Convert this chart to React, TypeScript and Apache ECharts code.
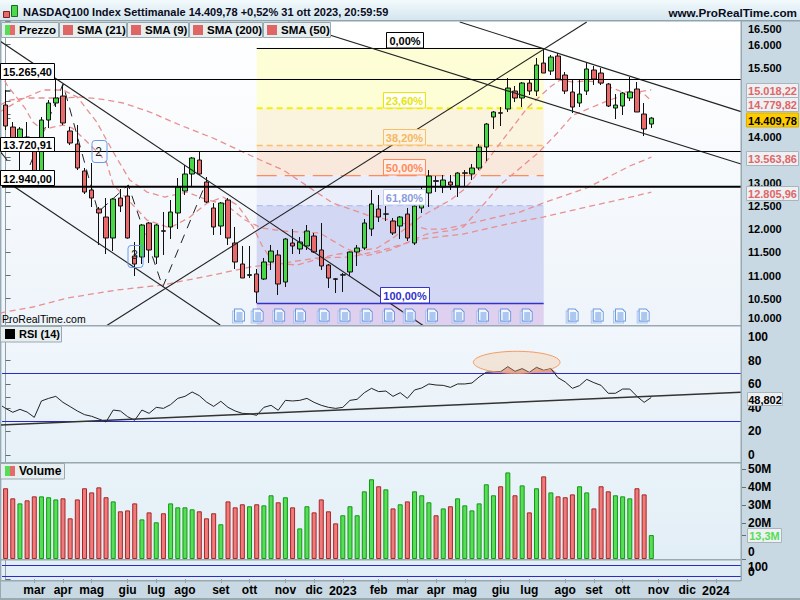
import React, { useEffect, useRef } from "react";
import * as echarts from "echarts";

const weeks = [
  "2022-02-07","2022-02-14","2022-02-21","2022-02-28","2022-03-07","2022-03-14","2022-03-21","2022-03-28",
  "2022-04-04","2022-04-11","2022-04-18","2022-04-25","2022-05-02","2022-05-09","2022-05-16","2022-05-23","2022-05-30",
  "2022-06-06","2022-06-13","2022-06-20","2022-06-27","2022-07-04","2022-07-11","2022-07-18","2022-07-25",
  "2022-08-01","2022-08-08","2022-08-15","2022-08-22","2022-08-29","2022-09-05","2022-09-12","2022-09-19","2022-09-26",
  "2022-10-03","2022-10-10","2022-10-17","2022-10-24","2022-10-31","2022-11-07","2022-11-14","2022-11-21","2022-11-28",
  "2022-12-05","2022-12-12","2022-12-19","2022-12-26","2023-01-02","2023-01-09","2023-01-16","2023-01-23","2023-01-30",
  "2023-02-06","2023-02-13","2023-02-20","2023-02-27","2023-03-06","2023-03-13","2023-03-20","2023-03-27",
  "2023-04-03","2023-04-10","2023-04-17","2023-04-24","2023-05-01","2023-05-08","2023-05-15","2023-05-22","2023-05-29",
  "2023-06-05","2023-06-12","2023-06-19","2023-06-26","2023-07-03","2023-07-10","2023-07-17","2023-07-24","2023-07-31",
  "2023-08-07","2023-08-14","2023-08-21","2023-08-28","2023-09-04","2023-09-11","2023-09-18","2023-09-25",
  "2023-10-02","2023-10-09","2023-10-16","2023-10-23","2023-10-30","2023-11-06","2023-11-13","2023-11-20","2023-11-27",
  "2023-12-04","2023-12-11","2023-12-18","2023-12-25","2024-01-01","2024-01-08","2024-01-15","2024-01-22",
];

const monthTickDates = [
  "2022-03-07","2022-04-04","2022-05-02","2022-06-06","2022-07-04","2022-08-01","2022-09-05","2022-10-03","2022-11-07","2022-12-05",
  "2023-01-02","2023-02-06","2023-03-06","2023-04-03","2023-05-01","2023-06-05","2023-07-03","2023-08-07","2023-09-04","2023-10-02",
  "2023-11-06","2023-12-04","2024-01-01",
];
const monthTickLabels = [
  "mar","apr","mag","giu","lug","ago","set","ott","nov","dic","2023","feb","mar","apr","mag","giu","lug","ago","set","ott","nov","dic","2024",
];

// open, close, low, high
const candles = [
  [14692,14238,14151,15017],[14216,13935,13718,14324],[13718,14173,13177,14216],[14000,13761,13718,14324],
  [13826,13112,12961,13900],[13177,14368,13112,14433],[14368,14736,14194,14800],[14736,14844,14649,15233],
  [14887,14303,14259,15125],[14130,13870,13826,14216],[13848,13329,13285,14259],[13264,12809,12766,13329],
  [12853,12679,12485,13437],[12441,12355,11662,12485],[12268,11814,11467,12679],[11814,12658,11532,12680],
  [12679,12506,12376,12874],[12723,11814,11800,12896],[11424,11251,10991,11727],[11402,12095,11251,12117],
  [12138,11554,11273,12160],[11402,12095,11251,12117],[11970,11960,11446,12376],[12052,12376,11792,12636],
  [12355,12917,12008,13112],[12831,13199,12744,13394],[13199,13545,12917,13567],[13502,13199,13177,13675],
  [13026,12593,12571,13134],[12463,12052,11879,12571],[12073,12571,11879,12593],[12636,11814,11662,12679],
  [11705,11294,11143,12052],[11251,10948,10948,11641],[11005,11020,10948,11641],[11035,10645,10407,11143],
  [10926,11294,10905,11381],[11294,11532,11121,11662],[11446,10818,10580,11554],[10861,11792,10753,11814],
  [11705,11641,11467,12008],[11576,11727,11467,11835],[11641,11965,11554,12095],[11857,11511,11489,11922],
  [11554,11208,11121,12138],[11229,10948,10732,11251],[10930,10920,10623,10948],[11010,11020,10645,11056],
  [11078,11511,10991,11520],[11511,11597,11208,11662],[11597,12138,11554,12225],[12008,12550,11857,12853],
  [12441,12268,12160,12744],[12330,12335,12182,12506],[12182,11922,11879,12247],[12073,12268,11792,12290],
  [12333,11814,11749,12463],[11705,12506,11662,12571],[12463,12571,12355,12917],[12788,13155,12485,13285],
  [13055,13040,12809,13155],[12917,13069,12788,13177],[13026,12961,12853,13177],[12939,13220,12701,13240],
  [13215,13225,12917,13285],[13199,13329,13069,13415],[13329,13783,13285,13848],[13783,14281,13480,14303],
  [14433,14541,14173,14562],[14525,14515,14238,14649],[14606,15060,14541,15277],[14995,14844,14757,15104],
  [14844,15168,14649,15190],[15168,14995,14909,15255],[14995,15558,14887,15710],[15601,15385,15385,15905],
  [15428,15731,15342,15775],[15753,15255,15255,15818],[15342,14995,14930,15407],[14974,14649,14519,15255],
  [14736,14930,14649,15233],[14995,15472,14909,15601],[15450,15255,15125,15537],[15385,15168,15125,15493],
  [15147,14671,14649,15168],[14627,14692,14389,14930],[14671,14952,14476,14974],[14844,14974,14779,15298],
  [15039,14541,14541,15190],[14497,14173,14021,14736],[14281,14409.78,14194,14430],
];

const volumes = [
  39.3,33.7,30.9,32.6,34.8,34.8,34.3,33.1,33.7,22.6,33.1,39.3,37,39.8,34.3,32,26.5,27,30.9,22,25.9,20.4,25.4,30.9,
  28.7,28.7,27.6,26.5,22.6,25.4,19.3,32,28.7,30.4,29.3,30.4,29.8,35.4,31.5,34.3,28.7,17,29.3,25.9,33.1,26.5,19.8,
  24.3,29.3,24.3,37.6,44.3,40.4,38.7,28.1,30.4,32,37.6,35.4,31.5,24.3,28.1,29.3,33.7,29.8,27,30.9,41.5,35.4,40.4,
  48.1,35.4,40.9,25.9,39.3,45.9,37,34.8,34.3,35.9,40.4,37,28.1,40.4,37.6,35.4,34.8,33.7,39.3,35.9,13.3,
];

const rsiStart = 41.5;
const rsiValues = [
  39.5,36.2,38.7,36.4,31.9,45.8,48,49.7,44.6,41,37.3,34.2,32.8,30.5,28,38.1,37.3,32.5,29.4,38.1,35.3,40.4,39.5,42.7,
  48,49.7,53.4,50.3,44.9,41.2,45.5,40.4,37.3,35.3,35,33.6,40.4,42.1,37.9,46.3,45.8,46.3,48,44.6,42.1,40.4,39.5,40.4,
  46.3,47.2,52.8,56.5,53.7,54.2,49.7,52.8,48,55.1,56.8,60.2,59.3,59,57.3,60.2,60.2,61,66.1,70.1,70.6,70.6,74.9,70.9,
  73.2,70.1,74.3,71.8,73.2,65.5,61.9,56.5,58.8,64.1,61.3,59,52.3,52.3,55.9,55.9,49.7,44.6,48.802,
];
const rsiOverboughtSpan = [66.6, 77];
const rsiLevels = [69.07, 28.39];
const rsiTrend = [[-0.8, 25.4], [102.5, 53.2]];
const miniLevels = [96.4, 17.9];

// Moving averages: [week index, value]
const sma9 = [
  [-0.8,15407],[0.2,15125],[2.7,14627],[3.8,14324],[5.2,14151],[6.6,14216],[8,14259],[9.3,14194],[10.8,13978],[13.2,13610],
  [14.1,13437],[15,12961],[17.1,12636],[19.7,12203],[22.9,12030],[25.7,12268],[28.1,12571],[30.3,12701],[32.3,12528],
  [34.5,12052],[35.7,11662],[37.3,11273],[40.6,11229],[45.6,11446],[51.8,11597],[54,11814],[57.8,12268],[62,12636],
  [63.8,12853],[64.7,13004],[72.7,14627],[75.9,15082],[77.3,15233],[79.1,15190],[81,15212],[82.8,15190],[84.2,15082],
  [86,14974],[88,14974],[89,14930],[90,14779.82],
];
const sma21 = [
  [-0.8,14541],[2,14800],[5.2,15017],[8,15017],[10,14865],[12.7,14324],[15,13675],[17.3,13069],[19.7,12809],[22.2,12701],
  [25.3,12809],[28.1,12636],[30.6,12550],[33.4,12203],[35.7,12030],[38.7,11965],[41,11944],[43.8,11922],[47.3,11597],
  [50.1,11424],[53.6,11554],[58.7,11900],[62.4,11987],[63.8,12052],[66.8,12571],[68.9,12961],[74.2,13653],[76.9,14087],
  [79.1,14476],[84.2,14800],[87,14952],[90,15018.22],
];
const sma50 = [
  [-0.8,14692],[0.6,14800],[3,14844],[8,14844],[10.4,14865],[13.2,14822],[16.4,14736],[20.1,14541],[24.3,14259],[28.9,13978],
  [35.5,13502],[38.7,13285],[45.6,12571],[50.4,12311],[53.6,12203],[58.7,12008],[61,12008],[63.8,12095],[68.5,12268],
  [71.7,12376],[74.9,12571],[81,12896],[87,13372],[90,13563.86],
];
const sma200 = [
  [-0.8,10190],[3.8,10320],[8.6,10515],[15.5,10688],[21.9,10797],[28.9,11013],[34.1,11186],[38.7,11273],[43.4,11381],[48,11402],
  [52.6,11554],[57.8,11792],[63.8,11900],[69.3,12095],[74.9,12268],[81,12485],[86.6,12679],[90,12805.96],
];

const waveLine = [[3.4,13394],[8,15147],[12.9,12376],[17.1,12961],[21.9,10753],[28.1,13069]];
const trendLines = [
  [[-0.8,16078],[58.3,9909]],
  [[-0.8,13134],[29.9,9930]],
  [[14,9909],[81,16489]],
  [[39.4,16489],[102.5,13415]],
  [[63.3,16489],[102.5,14549]],
  [[-0.8,13697],[0.2,13502]],
];
const levelLines = [
  { value: 15245, width: 1 },
  { value: 13686, width: 1 },
  { value: 12924, width: 2 },
];

const fibStart = 35;
const fibEnd = 75;
const fibLevels = [15916, 14621, 13816, 13166, 12515, 10396];
const fibColors = ["#000000", "#f2f200", "#f8c06a", "#ff8a5c", "#b4c0f0", "#3333cc"];
const fibBands = ["#fdfdd6", "#faf3de", "#f9e8dc", "#e9eefa", "#d2d7f4", "#e0d0f0"];
const fibBottom = 9909;

const eventWeeks = [32.6,35.2,38.2,41.1,44.4,47.3,50.4,53.5,56.4,59.5,63.2,66.6,69.7,72.7,79.1,82.6,85.7,89];

const priceTicks = [10000,10500,11000,11500,12000,12500,13000,13500,14000,14500,15000,15500,16000,16500,15018,14780,14410,13564,12806];
const priceLabels = [10000,10500,11000,11500,12000,12500,13000,14000,15500,16000,16500];
const rsiAxis = [0,20,40,60,80,100];
const volumeAxis = [0,10,20,30,40,50];

const isGreen = (c: number[]) => c[1] >= c[0];
const FONT = '"Liberation Sans"';
const BLACK_LINE = "#222222";
const SMA_LINE = "#e89090";
const F11 = `bold 11px ${FONT}`;

function smaSeries(data: number[][]) {
  return {
    type: "line", xAxisIndex: 1, yAxisIndex: 0, data, symbol: "none", silent: true, z: 3,
    lineStyle: { color: SMA_LINE, width: 1.3, type: [6, 4] },
  };
}
function lineSeries(data: number[][], color: string, width: number, xAxisIndex = 1, yAxisIndex = 0, z = 4, dash: any = "solid") {
  return {
    type: "line", xAxisIndex, yAxisIndex, data, symbol: "none", silent: true, z,
    lineStyle: { color, width, type: dash },
  };
}

function rect(x: number, y: number, w: number, h: number, fill: any, stroke?: string, z = 50, r = 0) {
  return { type: "rect", z, silent: true, shape: { x, y, width: w, height: h, r }, style: { fill, stroke: stroke || "none", lineWidth: 1 } };
}
function text(x: number, y: number, t: string, fill = "#000", font = F11, align = "left", z = 51) {
  return { type: "text", z, silent: true, style: { x, y, text: t, fill, font, textAlign: align, textVerticalAlign: "middle", align, verticalAlign: "middle" } };
}
function box(x: number, y: number, w: number, h: number, t: string, fill: string, stroke: string, color: string, font = F11) {
  return [rect(x + 0.5, y + 0.5, w, h, fill, stroke), text(x + 0.5 + w / 2, y + 0.5 + h / 2 + 0.5, t, color, font, "center")];
}

function buildGraphics() {
  const tabs = [
    { x: 1, w: 57, label: "Prezzo", split: true },
    { x: 59, w: 67, label: "SMA (21)" },
    { x: 127, w: 61, label: "SMA (9)" },
    { x: 189, w: 73, label: "SMA (200)" },
    { x: 263, w: 67, label: "SMA (50)" },
  ];
  const els: any[] = [];
  // header
  els.push(rect(0, 0, 800, 21, { type: "linear", x: 0, y: 0, x2: 0, y2: 1, colorStops: [{ offset: 0, color: "#f2fafc" }, { offset: 1, color: "#d3e5ee" }] }));
  els.push(rect(0, 20, 800, 1.5, "#8fa3ad"));
  els.push(rect(3.5, 11.5, 6, 6, "#e86a6a", "#7a2020"));
  els.push(rect(11.5, 5.5, 6, 11, "#4fd84f", "#1c6a1c"));
  els.push(text(23, 12, "NASDAQ100 Index Settimanale 14.409,78 +0,52% 31 ott 2023, 20:59:59", "#0a0a20", F11));
  els.push(text(797, 12, "www.ProRealTime.com", "#0a0a20", `bold 11.7px ${FONT}`, "right"));
  // tabs
  tabs.forEach((t) => {
    els.push(rect(t.x + 0.5, 22.5, t.w, 15, "#e6eef0", "#9aa9b0"));
    if (t.split) {
      els.push(rect(t.x + 4, 25, 5, 10, "#55dd55"));
      els.push(rect(t.x + 9, 25, 5, 10, "#e66a6a"));
    } else {
      els.push(rect(t.x + 4, 25, 10, 10, "#e06666"));
    }
    els.push(text(t.x + 18, 30, t.label, "#000", `bold 11.5px ${FONT}`));
  });
  // sub-panel tabs
  els.push(rect(0.5, 326.5, 61, 15.5, "#e6eef0", "#9aa9b0"));
  els.push(rect(5, 329, 10, 10, "#000"));
  els.push(text(19, 334, "RSI (14)", "#000", F11));
  els.push(rect(0.5, 463.5, 64, 15.5, "#e6eef0", "#9aa9b0"));
  els.push(rect(5, 466, 5, 10, "#55dd55"));
  els.push(rect(10, 466, 5, 10, "#e66a6a"));
  els.push(text(19, 471, "Volume", "#000", `bold 12px ${FONT}`));
  els.push(text(2, 318.5, "ProRealTime.com", "#000", `10.5px ${FONT}`));
  // dividers
  [325, 462, 559, 580].forEach((y) => els.push(rect(0, y, 741, 1.5, "#9aa8b0")));
  els.push(rect(0, 598, 800, 2, "#9aa8b0"));
  els.push(rect(0, 21, 1, 579, "#9aa8b0"));
  els.push(rect(740.5, 21, 1.5, 560, "#9aa8b0"));
  // horizontal level boxes
  els.push(...box(0, 63, 54, 16, "15.265,40", "#ffffff", "#000000", "#000"));
  els.push(...box(0, 137, 54, 14, "13.720,91", "#ffffff", "#000000", "#000"));
  els.push(...box(0, 170, 54, 15, "12.940,00", "#ffffff", "#000000", "#000"));
  // Fibonacci boxes
  els.push(...box(386, 32, 37, 15.5, "0,00%", "#ffffff", "#000000", "#000"));
  els.push(...box(383, 92, 42, 15.5, "23,60%", "#ffffff", "#e8e800", "#e6e600"));
  els.push(...box(383, 129, 42, 15.5, "38,20%", "#fbf3e0", "#f6bf68", "#f4b860"));
  els.push(...box(383, 159, 42, 15.5, "50,00%", "#fdf0e8", "#ff8a5c", "#ff8a5c"));
  els.push(...box(383, 189, 42, 15.5, "61,80%", "#ffffff", "#c0ccf0", "#8c9cdc"));
  els.push(...box(380, 287, 49, 15.5, "100,00%", "#ffffff", "#3333cc", "#3333cc"));
  // wave labels
  els.push(rect(92, 140.5, 15, 22, "none", "#6a9ae8", 50, 3));
  els.push(text(98.5, 152, "2", "#222", `12px ${FONT}`, "center"));
  els.push(rect(128, 245.5, 15, 22, "none", "#6a9ae8", 50, 3));
  els.push(text(134.5, 255, "3", "#222", `12px ${FONT}`, "center"));
  // RSI ellipse
  els.push({
    type: "ellipse", z: 20, silent: true, shape: { cx: 516.7, cy: 362.3, rx: 43.3, ry: 11 },
    style: { fill: "rgba(250,190,140,0.3)", stroke: "#f79a62", lineWidth: 1 },
  });
  // right-hand value boxes
  els.push(...box(746, 83, 52, 14, "15.018,22", "#edf1f4", "#aab4ba", "#e06666"));
  els.push(...box(746, 97, 52, 14, "14.779,82", "#edf1f4", "#aab4ba", "#e06666"));
  els.push(...box(746, 112.5, 52, 14, "14.409,78", "#ffcc00", "#d9b000", "#000000"));
  els.push(...box(746, 151, 52, 14, "13.563,86", "#edf1f4", "#aab4ba", "#e06666"));
  els.push(...box(746, 186, 52, 14, "12.805,96", "#edf1f4", "#aab4ba", "#e06666"));
  els.push(...box(747, 392, 35, 13, "48,802", "#edf1f4", "#aab4ba", "#000000"));
  els.push(...box(747, 528, 34, 14, "13,3M", "#edf1f4", "#aab4ba", "#55dd55"));
  return els;
}

const panelBg = (a: string, b: string) => ({ type: "linear", x: 0, y: 0, x2: 0, y2: 1, colorStops: [{ offset: 0, color: a }, { offset: 1, color: b }] });
const GRID_X = { left: 2, width: 739 };
const axisLabelBase = { color: "#000", fontFamily: FONT, fontWeight: "bold", fontSize: 12, margin: 7, showMinLabel: true, showMaxLabel: true, hideOverlap: false } as any;
const axisLineBase = { show: true, lineStyle: { color: "#8fa0a9", width: 1 } };
const tickBase = { show: true, length: 5, lineStyle: { color: "#5f6f78", width: 1 } };

const DOC_ICON = "path://M0 0H7L10 3V12H0ZM2 4H8M2 6H8M2 8H8M2 10H8";
const richText = (padding: number[], fontSize = 12) => ({ padding, fontFamily: FONT, fontWeight: "bold", fontSize, color: "#000" });

function buildOption() {
  const fibBandAreas = fibBands.map((_, i) => {
    const top = fibLevels[i];
    const bottom = i + 1 < fibLevels.length ? fibLevels[i + 1] : fibBottom;
    return [
      { xAxis: fibStart, yAxis: top, itemStyle: { color: fibBands[i] } },
      { xAxis: fibEnd, yAxis: bottom },
    ];
  });

  const series: any[] = [
    {
      type: "line", xAxisIndex: 1, yAxisIndex: 0, data: [], symbol: "none", z: 1, silent: true,
      markArea: { silent: true, data: fibBandAreas, itemStyle: { opacity: 1 } },
    },
    ...fibLevels.map((v, i) =>
      lineSeries([[fibStart, v], [fibEnd, v]], fibColors[i], i === 1 ? 2 : i === 0 ? 1 : 1.3, 1, 0, 2,
        i === 0 || i === 5 ? "solid" : i === 3 ? [20, 8] : [6, 4])
    ),
    lineSeries(waveLine, "#222222", 1, 1, 0, 3, [9, 7]),
    {
      type: "candlestick", xAxisIndex: 0, yAxisIndex: 0, z: 5, silent: true, barWidth: 5,
      data: candles,
      itemStyle: { color: "#47d747", color0: "#e86a6a", borderColor: "#101010", borderColor0: "#101010", borderWidth: 1 },
    },
    smaSeries(sma9), smaSeries(sma21), smaSeries(sma50), smaSeries(sma200),
    ...trendLines.map((d) => lineSeries(d, BLACK_LINE, 1.1, 1, 0, 6)),
    ...levelLines.map((l) => lineSeries([[-0.5, l.value], [102.5, l.value]], "#000000", l.width, 1, 0, 6)),
    {
      type: "scatter", xAxisIndex: 1, yAxisIndex: 0, silent: true, z: 7, symbol: DOC_ICON, symbolSize: [10, 12], symbolOffset: [-2, 2],
      data: eventWeeks.map((w) => [w, 10147]),
      itemStyle: { color: "#dfe8fb", borderColor: "#9db8ea", borderWidth: 1 },
    },
    {
      type: "scatter", xAxisIndex: 1, yAxisIndex: 0, silent: true, z: 8, symbol: DOC_ICON, symbolSize: [10, 12],
      data: eventWeeks.map((w) => [w, 10147]),
      itemStyle: { color: "#ffffff", borderColor: "#3f7fdc", borderWidth: 1 },
    },
    // RSI
    ...rsiLevels.map((v) => lineSeries([[-0.5, v], [102.5, v]], "#2a2acc", 1, 2, 1, 2)),
    {
      type: "line", xAxisIndex: 2, yAxisIndex: 1, symbol: "none", silent: true, z: 2,
      data: [
        [rsiOverboughtSpan[0], rsiLevels[0]],
        ...rsiValues.map((v, i) => [i, v]).filter((p) => p[0] > rsiOverboughtSpan[0] && p[0] < rsiOverboughtSpan[1]),
        [rsiOverboughtSpan[1], rsiLevels[0]],
      ],
      lineStyle: { width: 0 },
      areaStyle: { origin: rsiLevels[0], color: "#d68f80", opacity: 0.8 },
    },
    lineSeries([[-0.5, rsiStart], ...rsiValues.map((v, i) => [i, v])], BLACK_LINE, 1, 2, 1, 4),
    lineSeries(rsiTrend, "#333333", 1.5, 2, 1, 4),
    // Volume
    {
      type: "bar", xAxisIndex: 3, yAxisIndex: 2, silent: true, barWidth: 5, z: 3,
      data: volumes.map((v, i) => ({
        value: v,
        itemStyle: isGreen(candles[i])
          ? { color: "#57dd57", borderColor: "#129a12", borderWidth: 1 }
          : { color: "#ee7a7a", borderColor: "#a82626", borderWidth: 1 },
      })),
    },
    // mini panel
    ...miniLevels.map((v) => lineSeries([[-0.5, v], [102.5, v]], "#2a2acc", 1, 5, 3, 3)),
  ];

  const monthFormatter = (value: string) => {
    const k = monthTickDates.indexOf(value);
    if (k < 0) return "";
    const l = monthTickLabels[k];
    return /^\d+$/.test(l) ? `{y|${l}}` : l;
  };
  const isMonth = (_: number, value: string) => monthTickDates.includes(value);

  return {
    animation: false,
    backgroundColor: "#c9d9e3",
    grid: [
      { ...GRID_X, top: 21, height: 305, show: true, borderWidth: 0, backgroundColor: panelBg("#ffffff", "#eef4fa") },
      { ...GRID_X, top: 326, height: 136, show: true, borderWidth: 0, backgroundColor: panelBg("#f1f7fc", "#e6f0f7") },
      { ...GRID_X, top: 463, height: 96, show: true, borderWidth: 0, backgroundColor: panelBg("#e9f3f9", "#e2eef6") },
      { ...GRID_X, top: 560, height: 20, show: true, borderWidth: 0, backgroundColor: "#e3eff7" },
    ],
    xAxis: [
      { type: "category", gridIndex: 0, data: weeks, show: false },
      { type: "value", gridIndex: 0, min: -0.5, max: 102.5, show: false, splitLine: { show: false } },
      { type: "value", gridIndex: 1, min: -0.5, max: 102.5, show: false, splitLine: { show: false } },
      { type: "category", gridIndex: 2, data: weeks, show: false },
      {
        type: "category", gridIndex: 3, data: weeks, position: "bottom",
        axisLine: { show: false },
        axisTick: { show: true, length: 4, alignWithLabel: true, interval: isMonth, lineStyle: { color: "#8fa0a9" } },
        axisLabel: {
          ...axisLabelBase, interval: isMonth, formatter: monthFormatter, margin: 4,
          rich: { y: richText([0, 0, 0, 0], 12.5) },
        },
      },
      { type: "value", gridIndex: 3, min: -0.5, max: 102.5, show: false, splitLine: { show: false } },
    ],
    yAxis: [
      {
        type: "value", gridIndex: 0, position: "right", min: 9909, max: 16511, splitLine: { show: false },
        axisLine: axisLineBase,
        axisTick: { ...tickBase, customValues: priceTicks },
        axisLabel: {
          ...axisLabelBase, fontSize: 11, customValues: priceLabels,
          formatter: (v: number) => {
            const s = String(v).replace(/(\d+)(\d{3})$/, "$1.$2");
            if (v === 16500) return `{top|${s}}`;
            if (v === 10000) return `{low|${s}}`;
            return s;
          },
          rich: { top: richText([14, 0, 0, 0], 11), low: richText([0, 0, 8, 0], 11) },
        },
      },
      {
        type: "value", gridIndex: 1, position: "right", min: -5.93, max: 109.32, splitLine: { show: false },
        axisLine: axisLineBase,
        axisTick: { ...tickBase, customValues: [...rsiAxis, 48.802] },
        axisLabel: { ...axisLabelBase, customValues: rsiAxis, formatter: (v: number) => String(v) },
      },
      {
        type: "value", gridIndex: 2, position: "right", min: 0, max: 53.33, splitLine: { show: false },
        axisLine: axisLineBase,
        axisTick: { ...tickBase, customValues: [...volumeAxis, 13.3] },
        axisLabel: {
          ...axisLabelBase, customValues: volumeAxis,
          formatter: (v: number) => (v === 0 ? "{low|0}" : `${v}M`),
          rich: { low: richText([0, 0, 14, 0]) },
        },
      },
      {
        type: "value", gridIndex: 3, position: "right", min: -7.1, max: 135.7, splitLine: { show: false },
        axisLine: axisLineBase,
        axisTick: { ...tickBase, customValues: [0, 100] },
        axisLabel: {
          ...axisLabelBase, customValues: [100],
          formatter: () => "{top|100}",
          rich: { top: richText([3, 0, 0, 0]) },
        },
      },
      {
        type: "value", gridIndex: 3, position: "right", min: -7.1, max: 135.7, splitLine: { show: false },
        axisLine: { show: false },
        axisTick: { show: false },
        axisLabel: {
          ...axisLabelBase, customValues: [0],
          formatter: () => "{low|0}",
          rich: { low: richText([0, 0, 14, 0]) },
        },
      },
    ],
    graphic: { elements: buildGraphics() },
    series,
  };
}

export default function App() {
  const ref = useRef<HTMLDivElement>(null);
  useEffect(() => {
    document.body.style.margin = "0";
    const chart = echarts.init(ref.current!, undefined, { renderer: "svg" });
    chart.setOption(buildOption() as any);
    return () => chart.dispose();
  }, []);
  return <div ref={ref} style={{ width: 800, height: 600, position: "absolute", left: 0, top: 0 }} />;
}
